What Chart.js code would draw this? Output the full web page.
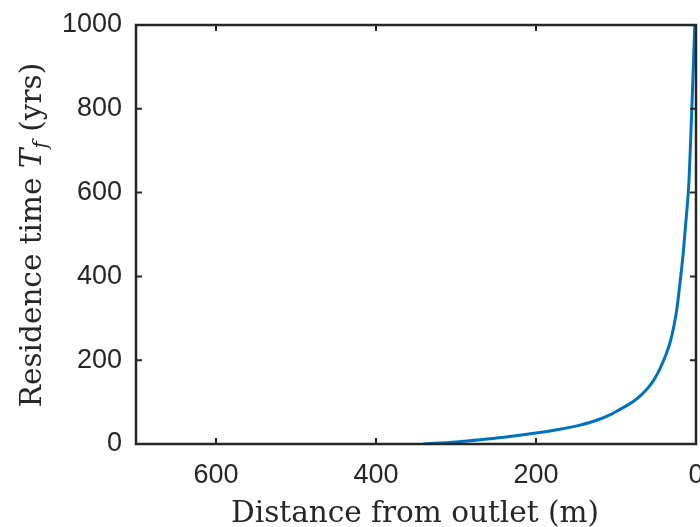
<!DOCTYPE html>
<html>
<head>
<meta charset="utf-8">
<script src="https://cdn.jsdelivr.net/npm/chart.js@4/dist/chart.umd.min.js"></script>
<style>
  html, body { margin: 0; padding: 0; background: #fff; }
  #wrap { width: 700px; height: 527px; }
</style>
</head>
<body>
<div id="wrap"><canvas id="residenceChart"></canvas></div>
<script>
// distance from outlet (m) and residence time T_f (yrs)
const distance = [341, 300, 270, 240, 200, 170, 145, 125, 105, 90, 78, 68, 60, 53, 47, 42, 37, 32, 28, 24, 20, 16, 12, 9, 6, 3.5, 1.5];
const residence = [0, 5, 10, 16, 26, 35, 45, 56, 72, 88, 102, 118, 134, 152, 172, 193, 216, 245, 278, 321, 385, 455, 545, 620, 760, 890, 1000];
const xTicks = [0, 200, 400, 600];
const yTicks = [0, 200, 400, 600, 800, 1000];
const xTitle = 'Distance from outlet (m)';

const axisColor = '#262626';
const titleSize = 29.5;

// matlab-style box with inward ticks, plus the latex-ish axis titles
const framePlugin = {
  id: 'frame',
  afterDraw(chart) {
    const { ctx, chartArea: a, scales } = chart;
    ctx.save();
    ctx.strokeStyle = axisColor;
    ctx.lineWidth = 2.5;
    ctx.strokeRect(a.left, a.top, a.right - a.left, a.bottom - a.top);
    ctx.lineWidth = 2;
    ctx.beginPath();
    xTicks.forEach(v => {
      const px = scales.x.getPixelForValue(v);
      ctx.moveTo(px, a.bottom); ctx.lineTo(px, a.bottom - 6);
      ctx.moveTo(px, a.top); ctx.lineTo(px, a.top + 6);
    });
    yTicks.forEach(v => {
      const py = scales.y.getPixelForValue(v);
      ctx.moveTo(a.left, py); ctx.lineTo(a.left + 6, py);
      ctx.moveTo(a.right, py); ctx.lineTo(a.right - 6, py);
    });
    ctx.stroke();

    ctx.fillStyle = axisColor;
    ctx.textBaseline = 'alphabetic';
    ctx.font = titleSize + 'px "DejaVu Serif"';
    ctx.textAlign = 'center';
    ctx.fillText(xTitle, 415, 522);

    // y title: "Residence time T_f (yrs)" rotated
    ctx.translate(41, 235);
    ctx.rotate(-Math.PI / 2);
    const parts = [
      { t: 'Residence time ', f: titleSize + 'px "DejaVu Serif"', dy: 0 },
      { t: 'T', f: 'italic ' + titleSize + 'px "DejaVu Serif"', dy: 0 },
      { t: 'f', f: 'italic 20px "DejaVu Serif"', dy: 6 },
      { t: ' (yrs)', f: titleSize + 'px "DejaVu Serif"', dy: 0 }
    ];
    let total = 0;
    parts.forEach(p => { ctx.font = p.f; p.w = ctx.measureText(p.t).width; total += p.w; });
    let x = -total / 2;
    ctx.textAlign = 'left';
    parts.forEach(p => { ctx.font = p.f; ctx.fillText(p.t, x, p.dy); x += p.w; });
    ctx.restore();
  }
};

const tickFont = { family: '"Liberation Sans", Arial, sans-serif', size: 27 };

new Chart(document.getElementById('residenceChart'), {
  type: 'line',
  data: {
    datasets: [{
      data: distance.map((d, i) => ({ x: d, y: residence[i] })),
      borderColor: '#0072BD',
      borderWidth: 3,
      pointRadius: 0,
      cubicInterpolationMode: 'monotone',
      fill: false
    }]
  },
  options: {
    responsive: true,
    maintainAspectRatio: false,
    animation: false,
    layout: { padding: { left: 0, right: 4, top: 25, bottom: 0 } },
    plugins: { legend: { display: false }, tooltip: { enabled: false } },
    scales: {
      x: {
        type: 'linear',
        reverse: true,
        min: 0,
        max: 700,
        afterBuildTicks: s => { s.ticks = xTicks.map(v => ({ value: v })); },
        afterFit: s => { s.height = 83; s.paddingLeft = 0; s.paddingRight = 0; },
        grid: { display: false, drawTicks: false },
        border: { display: false },
        ticks: { color: axisColor, padding: 15, font: tickFont, callback: v => String(v) }
      },
      y: {
        type: 'linear',
        min: 0,
        max: 1000,
        afterBuildTicks: s => { s.ticks = yTicks.map(v => ({ value: v })); },
        afterFit: s => { s.width = 136; s.paddingTop = 0; s.paddingBottom = 0; },
        grid: { display: false, drawTicks: false },
        border: { display: false },
        ticks: { color: axisColor, padding: 14, font: tickFont, callback: v => String(v) }
      }
    }
  },
  plugins: [framePlugin]
});
</script>
</body>
</html>
